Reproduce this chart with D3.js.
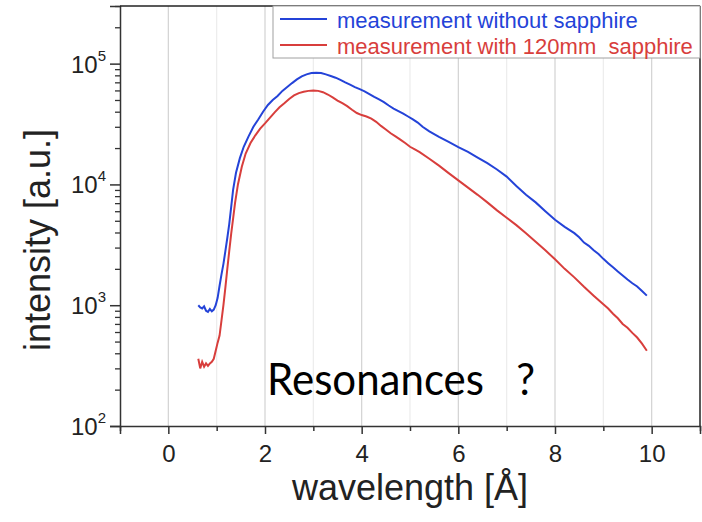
<!DOCTYPE html>
<html><head><meta charset="utf-8">
<script src="https://cdn.jsdelivr.net/npm/d3@7"></script>
<style>body{margin:0;background:#fff}svg{display:block}text{white-space:pre}</style>
</head><body><svg id="c" width="702" height="522"></svg>
<script>
const wavelengths_blue = [0.62,0.66,0.70,0.74,0.78,0.82,0.86,0.90,0.94,0.98,1.02,1.06,1.10,1.14,1.18,1.22,1.26,1.30,1.34,1.40,1.48,1.56,1.66,1.76,1.86,1.96,2.06,2.16,2.26,2.36,2.46,2.56,2.66,2.76,2.86,2.96,3.06,3.16,3.26,3.36,3.46,3.56,3.66,3.76,3.86,3.96,4.06,4.16,4.26,4.36,4.46,4.56,4.66,4.76,4.86,4.96,5.06,5.16,5.26,5.40,5.60,5.80,6.00,6.20,6.40,6.60,6.80,7.00,7.20,7.40,7.60,7.80,8.00,8.20,8.40,8.50,8.60,8.70,8.80,8.90,9.00,9.10,9.20,9.30,9.40,9.50,9.60,9.70,9.80,9.90];
const intensity_blue = [1000,960,940,980,900,880,930,890,920,1000,1150,1450,1800,2200,2800,3600,4700,6500,9000,12500,16500,20500,25000,30000,34500,40000,45500,50000,54000,59500,64000,69000,74000,78500,81500,83500,84000,83500,81500,79000,76500,73500,70000,67000,64000,61500,59000,56000,53000,50500,48000,45000,42500,40500,38500,36500,34500,32500,30000,27500,24800,22500,20400,18600,16700,15000,13300,11600,9700,8200,7100,6000,5100,4450,3950,3650,3300,3100,2850,2650,2420,2230,2060,1900,1760,1630,1520,1430,1310,1200];
const wavelengths_red = [0.62,0.66,0.70,0.74,0.78,0.82,0.86,0.90,0.94,0.98,1.02,1.06,1.10,1.14,1.18,1.22,1.26,1.30,1.34,1.38,1.44,1.52,1.60,1.70,1.80,1.90,2.00,2.10,2.20,2.30,2.40,2.50,2.60,2.70,2.80,2.90,3.00,3.10,3.20,3.30,3.40,3.50,3.60,3.70,3.80,3.90,4.00,4.10,4.20,4.30,4.40,4.50,4.60,4.70,4.80,4.90,5.00,5.10,5.20,5.40,5.60,5.80,6.00,6.20,6.40,6.60,6.80,7.00,7.20,7.40,7.60,7.80,8.00,8.20,8.40,8.60,8.80,9.00,9.10,9.20,9.30,9.40,9.50,9.60,9.70,9.80,9.90];
const intensity_red = [360,300,340,310,330,315,330,340,360,420,490,560,750,1000,1400,2000,2800,3900,5200,7000,10000,14000,18000,22000,25500,29000,32000,35500,39500,43500,47000,51000,54500,57000,58500,59500,60000,59500,58000,55500,52500,49500,47000,44500,41500,39000,37500,36500,35000,33000,30500,28500,26500,25000,23500,22000,20500,19500,18500,16300,14300,12400,10800,9400,8200,7100,6100,5300,4600,3950,3350,2850,2400,2000,1700,1420,1200,1020,940,850,780,700,650,590,540,480,420];
const seriesNames = ["measurement without sapphire", "measurement with 120mm  sapphire"];
const xMajorTicks = [0,2,4,6,8,10];
const xMinorTicks = [-1,1,3,5,7,9,11];
const yMajorTicks = [100,1000,10000,100000];
const xTitle = "wavelength [Å]";
const yTitle = "intensity [a.u.]";
const annotation = "Resonances   ?";

const W=702,H=522, L=120, T=6, R=700, B=426;
const svg=d3.select("#c");
const x=d3.scaleLinear().domain([-1,11]).range([L,R]);
const y=d3.scaleLog().domain([100,3e5]).range([B,T]);
const blue="#2443d8", red="#d83e3c";
const font="'Liberation Sans', Arial, sans-serif";

// gridlines
svg.append("g").selectAll("line").data(d3.range(0,11)).join("line")
  .attr("x1",d=>x(d)).attr("x2",d=>x(d)).attr("y1",T).attr("y2",B)
  .attr("stroke",d=>d%2===0?"#d2d2d2":"#ececec").attr("stroke-width",1.2);

// lines
const line=d3.line().x(d=>x(d[0])).y(d=>y(d[1]));
const sB=wavelengths_blue.map((w,i)=>[w,intensity_blue[i]]);
const sR=wavelengths_red.map((w,i)=>[w,intensity_red[i]]);
svg.append("path").datum(sB).attr("d",line).attr("fill","none").attr("stroke",blue).attr("stroke-width",2);
svg.append("path").datum(sR).attr("d",line).attr("fill","none").attr("stroke",red).attr("stroke-width",2);

// axes
const xAxis=d3.axisBottom(x).tickValues(xMajorTicks).tickSize(8).tickFormat(d3.format("d"));
const gx=svg.append("g").attr("transform",`translate(0,${B})`).call(xAxis);
gx.select(".domain").attr("stroke","#333").attr("stroke-width",1.5);
gx.selectAll(".tick line").attr("stroke","#333").attr("stroke-width",1.5);
gx.selectAll(".tick text").attr("font-family",font).attr("font-size",24).attr("fill","#222").attr("dy","1.05em");
const xMinorAxis=d3.axisBottom(x).tickValues(xMinorTicks).tickSize(5).tickFormat("");
const gxm=svg.append("g").attr("transform",`translate(0,${B})`).call(xMinorAxis);
gxm.select(".domain").remove();
gxm.selectAll(".tick line").attr("stroke","#333").attr("stroke-width",1.5);

const yAxis=d3.axisLeft(y).tickValues(yMajorTicks).tickSize(10).tickFormat("");
const gy=svg.append("g").attr("transform",`translate(${L},0)`).call(yAxis);
gy.select(".domain").attr("stroke","#333").attr("stroke-width",1.5);
gy.selectAll(".tick line").attr("stroke","#333").attr("stroke-width",1.5);
const minorY=[];
[100,1000,10000,100000].forEach(d=>{for(let k=2;k<=9;k++){if(d*k<=3e5)minorY.push(d*k);}});
const gym=svg.append("g").attr("transform",`translate(${L},0)`).call(d3.axisLeft(y).tickValues(minorY).tickSize(5).tickFormat(""));
gym.select(".domain").remove();
gym.selectAll(".tick line").attr("stroke","#333").attr("stroke-width",1.3);

// y tick labels with superscripts
const yl=svg.append("g").selectAll("text").data(yMajorTicks).join("text")
  .attr("x",106).attr("y",d=>y(d)+9).attr("text-anchor","end")
  .attr("font-family",font).attr("font-size",24).attr("fill","#222");
yl.append("tspan").text("10");
yl.append("tspan").attr("dy",-12).attr("font-size",15).text(d=>Math.round(Math.log10(d)));

// frame
svg.append("line").attr("x1",L).attr("x2",R).attr("y1",T).attr("y2",T).attr("stroke","#222").attr("stroke-width",1.5);
svg.append("line").attr("x1",R).attr("x2",R).attr("y1",T).attr("y2",B).attr("stroke","#222").attr("stroke-width",1.5);

// legend
svg.append("rect").attr("x",273).attr("y",T).attr("width",R-273).attr("height",52)
  .attr("fill","#fff").attr("stroke","#a0a0a0").attr("stroke-width",1);
const lg=svg.append("g").selectAll("g").data(seriesNames).join("g")
  .attr("transform",(d,i)=>`translate(0,${i*26})`);
lg.append("line").attr("x1",280).attr("x2",327).attr("y1",19).attr("y2",19)
  .attr("stroke",(d,i)=>i?red:blue).attr("stroke-width",2);
lg.append("text").attr("x",337).attr("y",28).attr("font-family",font).attr("font-size",22)
  .attr("fill",(d,i)=>i?red:blue).text(d=>d);

// titles
svg.append("text").attr("x",(L+R)/2).attr("y",500).attr("text-anchor","middle")
  .attr("font-family",font).attr("font-size",36).attr("fill","#222").text(xTitle);
svg.append("text").attr("transform","translate(50,240) rotate(-90)").attr("text-anchor","middle")
  .attr("font-family",font).attr("font-size",36).attr("fill","#222").text(yTitle);

// annotation
svg.append("text").attr("x",267).attr("y",395).attr("font-family","Lato, 'Open Sans', sans-serif")
  .attr("font-size",44).attr("fill","#000").attr("textLength",268).attr("lengthAdjust","spacingAndGlyphs")
  .text(annotation);
</script></body></html>
